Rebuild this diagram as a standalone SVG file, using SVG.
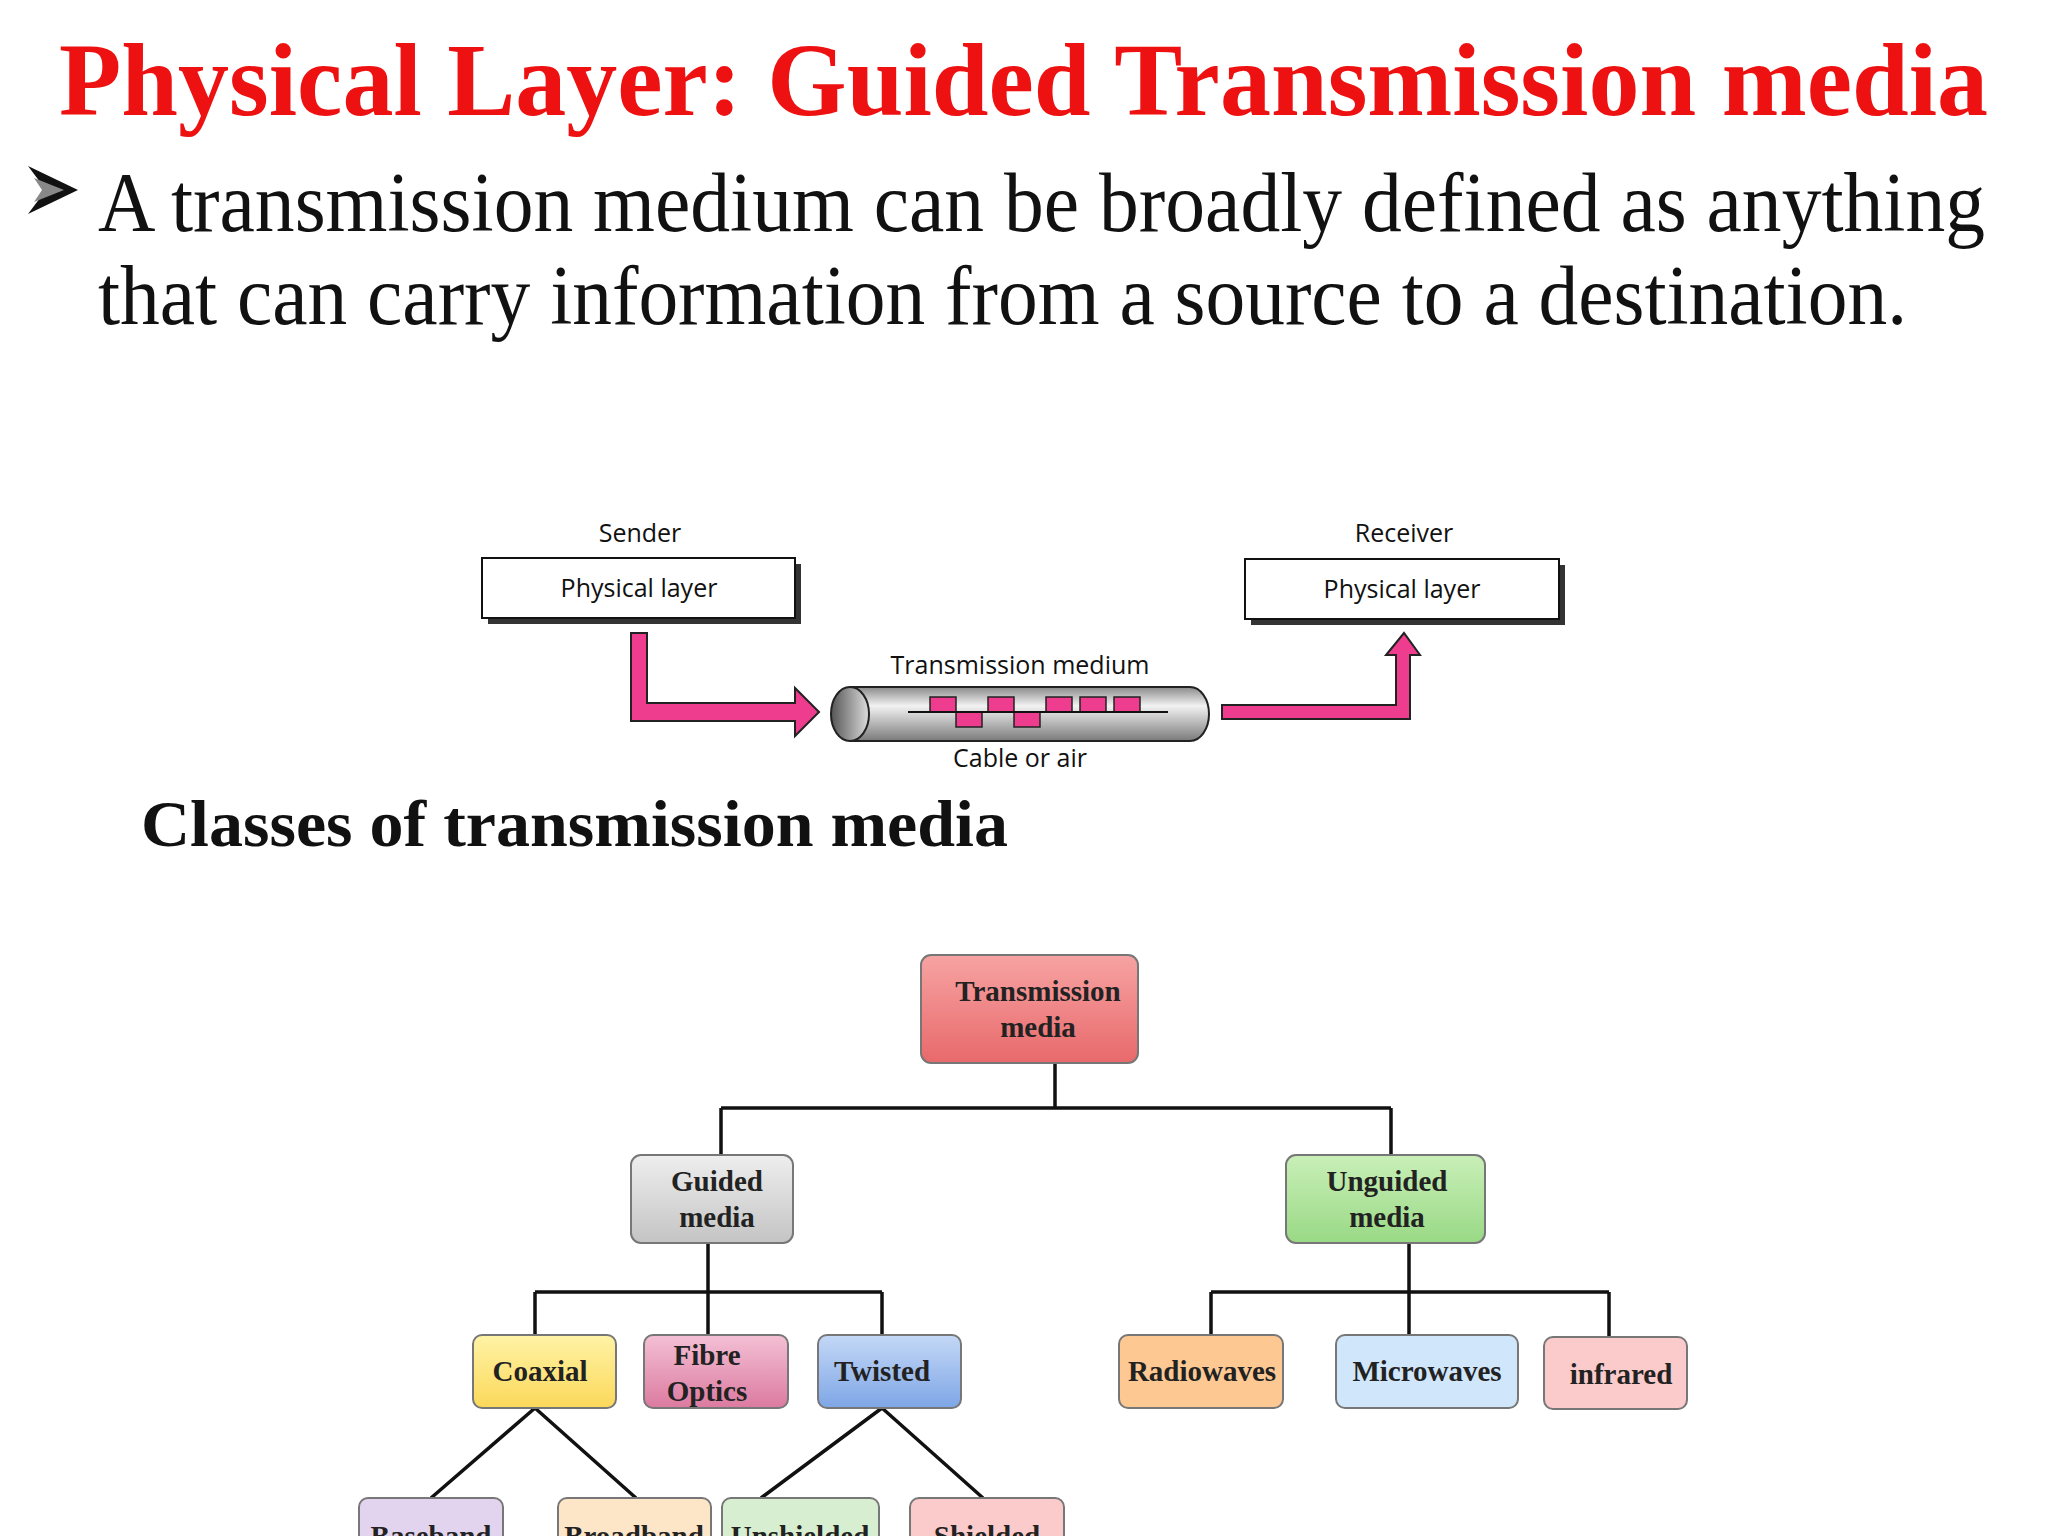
<svg xmlns="http://www.w3.org/2000/svg" width="2048" height="1536" viewBox="0 0 2048 1536">
<style>
.t{font-family:"Liberation Serif","Times New Roman",serif}
.s{font-family:"Open Sans","Liberation Sans",sans-serif;font-size:25px;fill:#111;text-anchor:middle}
.n{font-family:"Liberation Serif",serif;font-weight:bold;font-size:29px;fill:#222;text-anchor:middle}
.box{stroke:#777;stroke-width:2}
.ln{stroke:#111;stroke-width:3.5;fill:none}
.pk{fill:#ee3d8f;stroke:#222;stroke-width:2}
</style>
<defs>
<linearGradient id="cyl" x1="0" y1="0" x2="0" y2="1"><stop offset="0" stop-color="#8a8a8a"/><stop offset="0.35" stop-color="#f2f2f2"/><stop offset="1" stop-color="#7a7a7a"/></linearGradient>
<linearGradient id="end" x1="0" y1="0" x2="1" y2="0"><stop offset="0" stop-color="#555"/><stop offset="1" stop-color="#ddd"/></linearGradient>
<linearGradient id="gR" x1="0" y1="0" x2="0" y2="1"><stop offset="0" stop-color="#f7a3a3"/><stop offset="1" stop-color="#e8696b"/></linearGradient>
<linearGradient id="gG" x1="0" y1="0" x2="0" y2="1"><stop offset="0" stop-color="#eeeeee"/><stop offset="1" stop-color="#c4c4c4"/></linearGradient>
<linearGradient id="gU" x1="0" y1="0" x2="0" y2="1"><stop offset="0" stop-color="#c9efb8"/><stop offset="1" stop-color="#99d985"/></linearGradient>
<linearGradient id="gY" x1="0" y1="0" x2="0" y2="1"><stop offset="0" stop-color="#fff3a6"/><stop offset="1" stop-color="#fbd85a"/></linearGradient>
<linearGradient id="gF" x1="0" y1="0" x2="0" y2="1"><stop offset="0" stop-color="#f3c0d4"/><stop offset="1" stop-color="#dc7aa0"/></linearGradient>
<linearGradient id="gB" x1="0" y1="0" x2="0" y2="1"><stop offset="0" stop-color="#c4d8f6"/><stop offset="1" stop-color="#7ea6e6"/></linearGradient>
</defs>

<text class="t" x="59" y="115" font-size="104" font-weight="bold" fill="#ee1111" textLength="1929" lengthAdjust="spacingAndGlyphs">Physical Layer: Guided Transmission media</text>
<polygon points="28,166 78,190 28,214 46,190" fill="#111"/>
<polygon points="34,178 64,190 34,202 42,190" fill="#888"/>
<text class="t" x="98" y="231" font-size="84" fill="#111" textLength="1887" lengthAdjust="spacingAndGlyphs">A transmission medium can be broadly defined as anything</text>
<text class="t" x="98" y="324" font-size="84" fill="#111" textLength="1809" lengthAdjust="spacingAndGlyphs">that can carry information from a source to a destination.</text>

<g id="sender">
<text class="s" x="640" y="542">Sender</text>
<rect x="488" y="564" width="313" height="60" fill="#333"/>
<rect x="482" y="558" width="313" height="60" fill="#fff" stroke="#111" stroke-width="2"/>
<text class="s" x="639" y="597">Physical layer</text>
</g>
<g id="receiver">
<text class="s" x="1404" y="542">Receiver</text>
<rect x="1251" y="565" width="314" height="60" fill="#333"/>
<rect x="1245" y="559" width="314" height="60" fill="#fff" stroke="#111" stroke-width="2"/>
<text class="s" x="1402" y="598">Physical layer</text>
</g>
<g id="medium">
<text class="s" x="1020" y="674">Transmission medium</text>
<path d="M850,687 H1190 A19,27 0 0 1 1190,741 H850 Z" fill="url(#cyl)" stroke="#222" stroke-width="2"/>
<ellipse cx="850" cy="714" rx="19" ry="27" fill="url(#end)" stroke="#222" stroke-width="2"/>
<g fill="#ee3d8f" stroke="#222" stroke-width="1.5">
<rect x="930" y="697" width="26" height="15"/>
<rect x="956" y="712" width="26" height="15"/>
<rect x="988" y="697" width="26" height="15"/>
<rect x="1014" y="712" width="26" height="15"/>
<rect x="1046" y="697" width="26" height="15"/>
<rect x="1080" y="697" width="26" height="15"/>
<rect x="1114" y="697" width="26" height="15"/>
</g>
<line x1="908" y1="712" x2="1168" y2="712" stroke="#111" stroke-width="2"/>
<text class="s" x="1020" y="767">Cable or air</text>
</g>
<g id="arrows">
<path class="pk" d="M631,633 H647 V703 H795 V688 L819,712 L795,736 V721 H631 Z"/>
<path class="pk" d="M1222,705 H1396 V655 H1386 L1404,633 L1420,655 H1410 V719 H1222 Z"/>
</g>

<text class="t" x="141" y="846" font-size="66" font-weight="bold" fill="#111" textLength="867" lengthAdjust="spacingAndGlyphs">Classes of transmission media</text>

<g id="connectors">
<path class="ln" d="M1055,1063 V1108 M721,1108 H1391 M721,1108 V1155 M1391,1108 V1155"/>
<path class="ln" d="M708,1243 V1292 M535,1292 H882 M535,1292 V1336 M708,1292 V1336 M882,1292 V1336"/>
<path class="ln" d="M1409,1243 V1292 M1211,1292 H1609 M1211,1292 V1336 M1409,1292 V1336 M1609,1292 V1336"/>
<path class="ln" d="M535,1408 L431,1498 M535,1408 L636,1498 M882,1408 L761,1498 M882,1408 L983,1498"/>
</g>

<g id="root"><rect class="box" x="921" y="955" width="217" height="108" rx="10" fill="url(#gR)"/>
<text class="n" x="1038" y="1001">Transmission</text><text class="n" x="1038" y="1037">media</text></g>
<g id="guided"><rect class="box" x="631" y="1155" width="162" height="88" rx="10" fill="url(#gG)"/>
<text class="n" x="717" y="1191">Guided</text><text class="n" x="717" y="1227">media</text></g>
<g id="unguided"><rect class="box" x="1286" y="1155" width="199" height="88" rx="10" fill="url(#gU)"/>
<text class="n" x="1387" y="1191">Unguided</text><text class="n" x="1387" y="1227">media</text></g>
<g id="coaxial"><rect class="box" x="473" y="1335" width="143" height="73" rx="9" fill="url(#gY)"/>
<text class="n" x="540" y="1381">Coaxial</text></g>
<g id="fibre"><rect class="box" x="644" y="1335" width="144" height="73" rx="9" fill="url(#gF)"/>
<text class="n" x="707" y="1365">Fibre</text><text class="n" x="707" y="1401">Optics</text></g>
<g id="twisted"><rect class="box" x="818" y="1335" width="143" height="73" rx="9" fill="url(#gB)"/>
<text class="n" x="882" y="1381">Twisted</text></g>
<g id="radio"><rect class="box" x="1119" y="1335" width="164" height="73" rx="9" fill="#fdc892" stroke="#555"/>
<text class="n" x="1202" y="1381">Radiowaves</text></g>
<g id="micro"><rect class="box" x="1336" y="1335" width="182" height="73" rx="9" fill="#cfe6fb" stroke="#555"/>
<text class="n" x="1427" y="1381">Microwaves</text></g>
<g id="infrared"><rect class="box" x="1544" y="1337" width="143" height="72" rx="9" fill="#fbcaca"/>
<text class="n" x="1621" y="1384">infrared</text></g>
<g id="baseband"><rect class="box" x="359" y="1498" width="144" height="60" rx="9" fill="#e2d4ee"/>
<text class="n" x="431" y="1546">Baseband</text></g>
<g id="broadband"><rect class="box" x="558" y="1498" width="153" height="60" rx="9" fill="#fde5c8" stroke="#e0c060"/>
<text class="n" x="634" y="1546">Broadband</text></g>
<g id="unshielded"><rect class="box" x="722" y="1498" width="157" height="60" rx="9" fill="#d8eed0"/>
<text class="n" x="800" y="1546">Unshielded</text></g>
<g id="shielded"><rect class="box" x="910" y="1498" width="154" height="60" rx="9" fill="#fbcaca"/>
<text class="n" x="987" y="1546">Shielded</text></g>
</svg>
